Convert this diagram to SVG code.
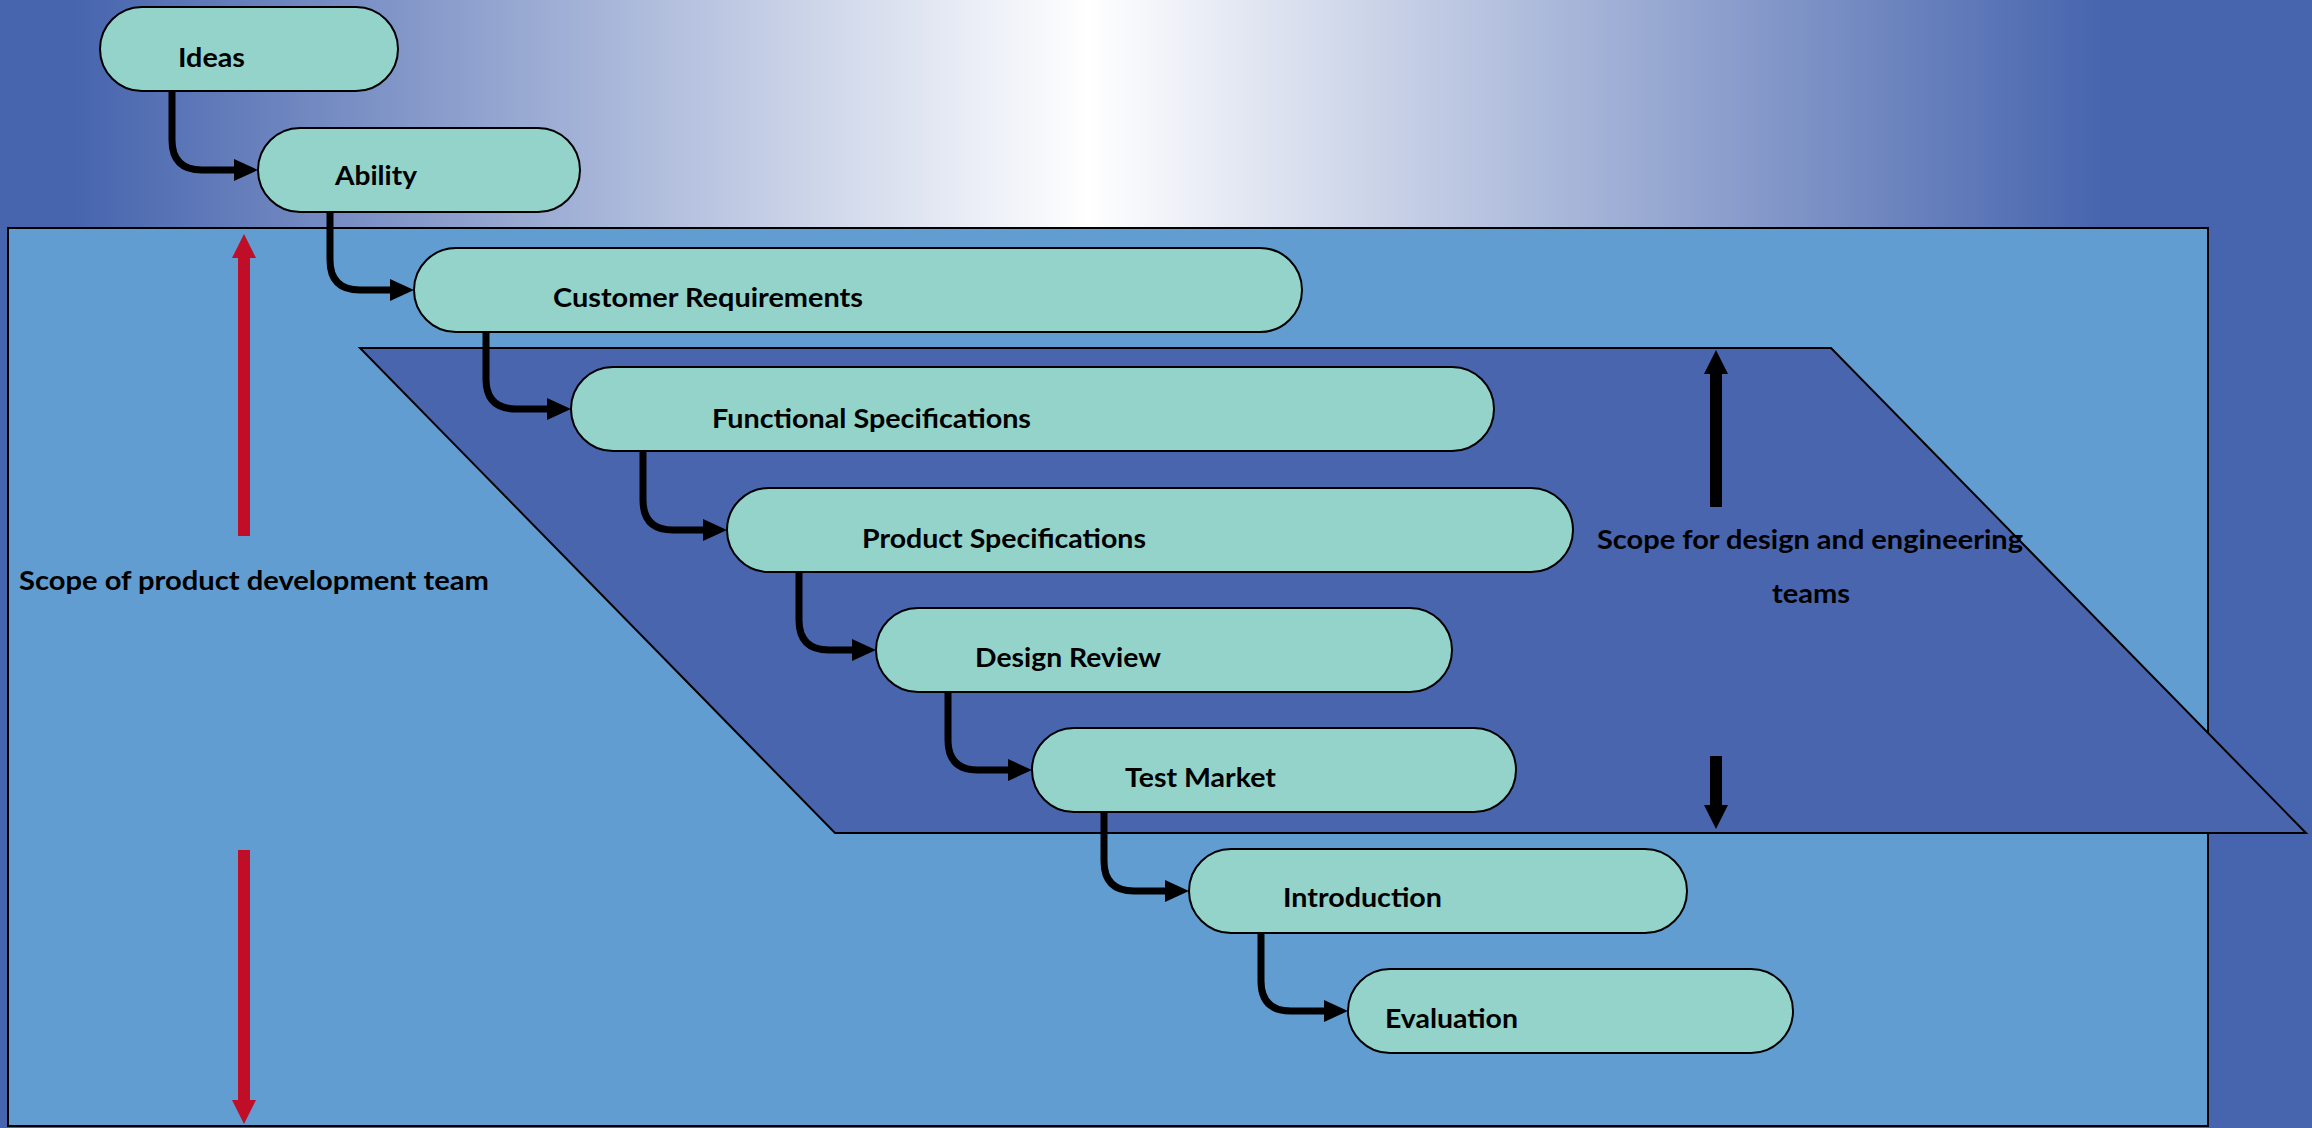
<svg xmlns="http://www.w3.org/2000/svg" width="2312" height="1128" viewBox="0 0 2312 1128">
  <defs>
    <linearGradient id="sky" gradientUnits="userSpaceOnUse" x1="76" y1="0" x2="2101" y2="0">
      <stop offset="0" stop-color="#4765AE"/>
      <stop offset="0.5" stop-color="#FFFFFF"/>
      <stop offset="1" stop-color="#4765AE"/>
    </linearGradient>
    <marker id="ah" markerUnits="userSpaceOnUse" viewBox="0 0 24 22" refX="2" refY="11" markerWidth="24" markerHeight="22" orient="auto">
      <path d="M0,0 L24,11 L0,22 Z" fill="#000"/>
    </marker>
    <marker id="redh" markerUnits="userSpaceOnUse" viewBox="0 0 24 24" refX="2" refY="12" markerWidth="24" markerHeight="24" orient="auto">
      <path d="M0,0 L24,12 L0,24 Z" fill="#C00D28"/>
    </marker>
    <marker id="blkh" markerUnits="userSpaceOnUse" viewBox="0 0 24 24" refX="2" refY="12" markerWidth="24" markerHeight="24" orient="auto">
      <path d="M0,0 L24,12 L0,24 Z" fill="#000"/>
    </marker>
  </defs>
  <style>
    .box { fill: #93D3CA; stroke: #000; stroke-width: 2; }
    .lbl { font-family: Lato, "Open Sans", "Liberation Sans", sans-serif; font-weight: bold; font-size: 27px; fill: #000; }
    .conn { fill: none; stroke: #000; stroke-width: 7; marker-end: url(#ah); }
    .red { fill: none; stroke: #C00D28; stroke-width: 12; marker-end: url(#redh); }
    .blk { fill: none; stroke: #000; stroke-width: 12; marker-end: url(#blkh); }
  </style>

  <!-- background -->
  <rect x="0" y="0" width="2312" height="1128" fill="#4765AE"/>
  <rect x="76" y="0" width="2025" height="230" fill="url(#sky)"/>

  <!-- scope of product development team region -->
  <rect id="dev-region" x="8" y="228" width="2200" height="898" fill="#629DD1" stroke="#000" stroke-width="2"/>
  <!-- scope for design and engineering region -->
  <polygon id="eng-region" points="360,348 1831,348 2306,833 835,833" fill="#4865AE" stroke="#000" stroke-width="2"/>

  <!-- scope arrows -->
  <g id="scope-arrows">
    <line class="red" x1="244" y1="536" x2="244" y2="256"/>
    <line class="red" x1="244" y1="850" x2="244" y2="1102"/>
    <line class="blk" x1="1716" y1="507" x2="1716" y2="372"/>
    <line class="blk" x1="1716" y1="756" x2="1716" y2="807"/>
  </g>
  <text class="lbl" x="19" y="590" textLength="470" lengthAdjust="spacingAndGlyphs">Scope of product development team</text>
  <text class="lbl" x="1810" y="549" text-anchor="middle" textLength="426" lengthAdjust="spacingAndGlyphs">Scope for design and engineering</text>
  <text class="lbl" x="1811" y="603" text-anchor="middle" textLength="78" lengthAdjust="spacingAndGlyphs">teams</text>

  <!-- connectors -->
  <g id="connectors">
    <path class="conn" d="M172,91 L172,140 Q172,170 202,170 L236,170"/>
    <path class="conn" d="M330,212 L330,260 Q330,290 360,290 L392,290"/>
    <path class="conn" d="M486,332 L486,379 Q486,409 516,409 L549,409"/>
    <path class="conn" d="M643,451 L643,500 Q643,530 673,530 L705,530"/>
    <path class="conn" d="M799,572 L799,620 Q799,650 829,650 L854,650"/>
    <path class="conn" d="M948,692 L948,740 Q948,770 978,770 L1010,770"/>
    <path class="conn" d="M1104,812 L1104,861 Q1104,891 1134,891 L1167,891"/>
    <path class="conn" d="M1261,933 L1261,981 Q1261,1011 1291,1011 L1326,1011"/>
  </g>

  <!-- nodes -->
  <g id="ideas">
    <rect class="box" x="100" y="7" width="298" height="84" rx="42" ry="42"/>
    <text class="lbl" x="178" y="67" textLength="67" lengthAdjust="spacingAndGlyphs">Ideas</text>
  </g>
  <g id="ability">
    <rect class="box" x="258" y="128" width="322" height="84" rx="42" ry="42"/>
    <text class="lbl" x="335" y="185" textLength="82" lengthAdjust="spacingAndGlyphs">Ability</text>
  </g>
  <g id="customer-requirements">
    <rect class="box" x="414" y="248" width="888" height="84" rx="42" ry="42"/>
    <text class="lbl" x="553" y="307" textLength="310" lengthAdjust="spacingAndGlyphs">Customer Requirements</text>
  </g>
  <g id="functional-specifications">
    <rect class="box" x="571" y="367" width="923" height="84" rx="42" ry="42"/>
    <text class="lbl" x="712" y="428" textLength="319" lengthAdjust="spacingAndGlyphs">Functional Specifications</text>
  </g>
  <g id="product-specifications">
    <rect class="box" x="727" y="488" width="846" height="84" rx="42" ry="42"/>
    <text class="lbl" x="862" y="548" textLength="284" lengthAdjust="spacingAndGlyphs">Product Specifications</text>
  </g>
  <g id="design-review">
    <rect class="box" x="876" y="608" width="576" height="84" rx="42" ry="42"/>
    <text class="lbl" x="975" y="667" textLength="186" lengthAdjust="spacingAndGlyphs">Design Review</text>
  </g>
  <g id="test-market">
    <rect class="box" x="1032" y="728" width="484" height="84" rx="42" ry="42"/>
    <text class="lbl" x="1125" y="787" textLength="151" lengthAdjust="spacingAndGlyphs">Test Market</text>
  </g>
  <g id="introduction">
    <rect class="box" x="1189" y="849" width="498" height="84" rx="42" ry="42"/>
    <text class="lbl" x="1283" y="907" textLength="159" lengthAdjust="spacingAndGlyphs">Introduction</text>
  </g>
  <g id="evaluation">
    <rect class="box" x="1348" y="969" width="445" height="84" rx="42" ry="42"/>
    <text class="lbl" x="1385" y="1028" textLength="133" lengthAdjust="spacingAndGlyphs">Evaluation</text>
  </g>
</svg>
